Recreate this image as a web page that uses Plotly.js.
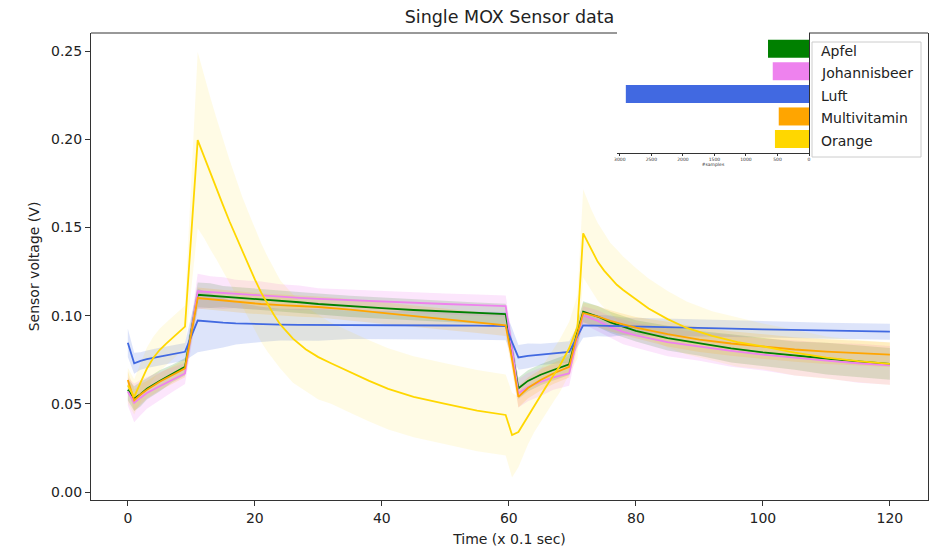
<!DOCTYPE html>
<html><head><meta charset="utf-8">
<script src="https://cdn.plot.ly/plotly-3.0.1.min.js"></script>
<style>body{margin:0;background:#fff}#chart{width:931px;height:548px}</style>
</head><body><div id="chart"></div>
<script>
// time axis (x 0.1 sec) shared by Apfel, Johannisbeer, Luft, Multivitamin
const timeSteps = [0, 1, 2, 3, 5, 7, 9,
  11, 13, 15, 17, 19, 21, 24, 27, 30, 35, 40, 45, 50, 55, 59.5,
  60.5, 61.5, 63, 65, 67, 69.5, 70.6, 71.7,
  74, 76, 78, 80, 85, 90, 95, 100, 105, 110, 115, 120];
// denser time axis for the Orange class (strong curvature)
const orangeTime = [0, 1, 2, 3, 4, 5, 6, 7, 8, 9,
  11, 12, 13, 14, 15, 16, 17, 18, 19, 20, 21, 22, 23, 24, 26, 28, 30, 32, 35, 38, 41, 45, 50, 55, 59.5,
  60.5, 61.5, 63, 64, 65, 66, 67, 68, 69.5, 70.8, 71.7,
  73, 74, 75, 76, 77, 78, 80, 82, 85, 88, 92, 96, 100, 105, 110, 115, 120];

// mean sensor voltage per class
const apfel = [0.058, 0.053, 0.0555, 0.0585, 0.063, 0.0672, 0.0710,
  0.1118, 0.1113, 0.1108, 0.1102, 0.1097, 0.1092, 0.1084, 0.1076, 0.1066, 0.1052, 0.1042, 0.1032, 0.1023, 0.1015, 0.1008,
  0.0800, 0.0588, 0.0630, 0.0665, 0.0692, 0.0724, 0.0880, 0.1022,
  0.0995, 0.0962, 0.0938, 0.0914, 0.0873, 0.0843, 0.0815, 0.0792, 0.0773, 0.0757, 0.0740, 0.0726];
const johannisbeer = [0.057, 0.0505, 0.0535, 0.0562, 0.0600, 0.0637, 0.0672,
  0.1138, 0.1133, 0.1128, 0.1123, 0.1118, 0.1114, 0.1108, 0.1101, 0.1095, 0.1087, 0.1080, 0.1073, 0.1066, 0.1060, 0.1054,
  0.0810, 0.0560, 0.0595, 0.0625, 0.0650, 0.0673, 0.0850, 0.1003,
  0.0970, 0.0935, 0.0908, 0.0888, 0.0850, 0.0824, 0.0800, 0.0779, 0.0760, 0.0745, 0.0730, 0.0718];
const luft = [0.0846, 0.0730, 0.0743, 0.0753, 0.0768, 0.0782, 0.0795,
  0.0972, 0.0965, 0.0960, 0.0956, 0.0953, 0.0951, 0.0949, 0.0948, 0.0947, 0.0947, 0.0946, 0.0945, 0.0944, 0.0943, 0.0941,
  0.0850, 0.0763, 0.0772, 0.0780, 0.0786, 0.0795, 0.0870, 0.0945,
  0.0943, 0.0941, 0.0939, 0.0937, 0.0933, 0.0929, 0.0926, 0.0922, 0.0918, 0.0915, 0.0912, 0.0909];
const multivitamin = [0.0635, 0.0520, 0.0553, 0.0580, 0.0625, 0.0665, 0.0701,
  0.1100, 0.1093, 0.1086, 0.1079, 0.1072, 0.1066, 0.1060, 0.1054, 0.1049, 0.1034, 0.1016, 0.0998, 0.0980, 0.0962, 0.0945,
  0.0750, 0.0540, 0.0590, 0.0635, 0.0672, 0.0710, 0.0870, 0.1015,
  0.0995, 0.0970, 0.0950, 0.0932, 0.0895, 0.0864, 0.0842, 0.0824, 0.0808, 0.0796, 0.0787, 0.0779];
const orange = [0.0605, 0.0540, 0.0620, 0.0700, 0.0760, 0.0805, 0.0840, 0.0872, 0.0903, 0.0938,
  0.1995, 0.1900, 0.1805, 0.1715, 0.1625, 0.1535, 0.1450, 0.1365, 0.1285, 0.1205, 0.1130, 0.1065, 0.1005, 0.0950,
  0.0870, 0.0810, 0.0765, 0.0730, 0.0680, 0.0630, 0.0585, 0.0540, 0.0500, 0.0462, 0.0437,
  0.0323, 0.0340, 0.0430, 0.0490, 0.0550, 0.0605, 0.0660, 0.0715, 0.0815, 0.0937, 0.1466,
  0.1370, 0.1305, 0.1255, 0.1212, 0.1175, 0.1145, 0.1090, 0.1040, 0.0980, 0.0930, 0.0885, 0.0850, 0.0826, 0.0790, 0.0762, 0.0742, 0.0727];

// spread (band half-width) per class
const apfelStd = [0.006, 0.007, 0.007, 0.006, 0.006, 0.005, 0.005,
  0.007, 0.007, 0.006, 0.006, 0.006, 0.006, 0.006, 0.006, 0.006, 0.006, 0.006, 0.006, 0.006, 0.006, 0.006,
  0.006, 0.006, 0.006, 0.006, 0.006, 0.006, 0.006, 0.006,
  0.006, 0.006, 0.006, 0.006, 0.007, 0.007, 0.008, 0.008, 0.008, 0.009, 0.009, 0.009];
const johannisbeerStd = [0.008, 0.011, 0.010, 0.009, 0.008, 0.007, 0.006,
  0.010, 0.009, 0.009, 0.008, 0.008, 0.008, 0.007, 0.007, 0.006, 0.006, 0.006, 0.006, 0.006, 0.006, 0.006,
  0.007, 0.008, 0.008, 0.008, 0.007, 0.007, 0.006, 0.005,
  0.006, 0.006, 0.007, 0.007, 0.008, 0.008, 0.009, 0.009, 0.010, 0.010, 0.011, 0.011];
const luftStd = [0.008, 0.006, 0.005, 0.005, 0.005, 0.005, 0.005,
  0.018, 0.016, 0.014, 0.012, 0.011, 0.010, 0.009, 0.009, 0.009, 0.008, 0.008, 0.008, 0.008, 0.008, 0.008,
  0.008, 0.007, 0.007, 0.006, 0.006, 0.006, 0.006, 0.007,
  0.006, 0.006, 0.005, 0.005, 0.005, 0.005, 0.005, 0.0045, 0.0045, 0.0045, 0.0045, 0.0045];
const multivitaminStd = [0.005, 0.006, 0.006, 0.005, 0.005, 0.005, 0.005,
  0.006, 0.006, 0.006, 0.006, 0.006, 0.006, 0.006, 0.006, 0.006, 0.006, 0.006, 0.006, 0.006, 0.006, 0.006,
  0.006, 0.006, 0.006, 0.006, 0.006, 0.006, 0.006, 0.006,
  0.006, 0.006, 0.006, 0.006, 0.007, 0.007, 0.007, 0.007, 0.007, 0.007, 0.007, 0.007];
const orangeStd = [0.010, 0.010, 0.011, 0.012, 0.012, 0.012, 0.012, 0.012, 0.012, 0.012,
  0.050, 0.046, 0.043, 0.040, 0.037, 0.035, 0.033, 0.031, 0.030, 0.029, 0.028, 0.027, 0.026, 0.025,
  0.025, 0.024, 0.024, 0.023, 0.023, 0.023, 0.023, 0.023, 0.023, 0.023, 0.023,
  0.024, 0.020, 0.016, 0.015, 0.015, 0.015, 0.015, 0.015, 0.015, 0.018, 0.025,
  0.023, 0.022, 0.021, 0.020, 0.020, 0.019, 0.018, 0.017, 0.016, 0.015, 0.014, 0.014, 0.013, 0.013, 0.012, 0.012, 0.012];

// inset: number of samples per class
const categories = ['Apfel', 'Johannisbeer', 'Luft', 'Multivitamin', 'Orange'];
const sampleCounts = [650, 575, 2905, 480, 540];

const xTicks = [0, 20, 40, 60, 80, 100, 120];
const yTicks = [0, 0.05, 0.10, 0.15, 0.20, 0.25];
const insetTicks = [0, 500, 1000, 1500, 2000, 2500, 3000];

const colors = ['green', 'violet', 'royalblue', 'orange', 'gold'];
const bandColors = ['rgba(0,128,0,0.17)', 'rgba(238,130,238,0.2)', 'rgba(65,105,225,0.18)', 'rgba(255,165,0,0.16)', 'rgba(255,215,0,0.1)'];
const times = [timeSteps, timeSteps, timeSteps, timeSteps, orangeTime];
const means = [apfel, johannisbeer, luft, multivitamin, orange];
const stds = [apfelStd, johannisbeerStd, luftStd, multivitaminStd, orangeStd];

const FONT = 'DejaVu Sans, sans-serif';
const traces = [];
means.forEach((m, i) => {
  const up = m.map((v, k) => v + stds[i][k]);
  const lo = m.map((v, k) => v - stds[i][k]);
  traces.push({
    x: times[i].concat(times[i].slice().reverse()),
    y: up.concat(lo.slice().reverse()),
    type: 'scatter', mode: 'lines', fill: 'toself', fillcolor: bandColors[i],
    line: {width: 0}, hoverinfo: 'skip', showlegend: false
  });
});
means.forEach((m, i) => {
  traces.push({
    x: times[i], y: m, type: 'scatter', mode: 'lines', name: categories[i],
    line: {color: colors[i], width: 1.8}, showlegend: false
  });
});
traces.push({
  type: 'bar', orientation: 'h', x: sampleCounts, y: categories,
  xaxis: 'x2', yaxis: 'y2', width: 0.8,
  marker: {color: colors, line: {width: 0}}, showlegend: false
});

const L = 91, R = 3, T = 33, B = 48, W = 931, H = 548;
const pw = W - L - R, ph = H - T - B;
const px = v => (v - L) / pw;
const py = v => (H - B - v) / ph;

const annotations = categories.map(c => ({
  text: c, xref: 'paper', x: px(819), xanchor: 'left',
  yref: 'y2', y: c, yanchor: 'middle', yshift: -2, showarrow: false,
  font: {family: FONT, size: 14, color: '#222'}
}));

const layout = {
  width: W, height: H,
  margin: {l: L, r: R, t: T, b: B},
  paper_bgcolor: '#fff', plot_bgcolor: '#fff',
  font: {family: FONT, color: '#222'},
  title: {text: 'Single MOX Sensor data', font: {family: FONT, size: 17.5, color: '#222'},
          xref: 'paper', x: 0.5, xanchor: 'center', yref: 'container', y: 1 - 17 / H, yanchor: 'middle'},
  xaxis: {
    range: [-5.8, 126], tickvals: xTicks, ticktext: xTicks.map(String),
    showline: true, linecolor: '#333', linewidth: 1, mirror: false,
    ticks: 'outside', ticklen: 5, tickcolor: '#333', showgrid: false, zeroline: false,
    tickfont: {family: FONT, size: 14, color: '#222'},
    title: {text: 'Time (x 0.1 sec)', font: {family: FONT, size: 14, color: '#222'}, standoff: 9}
  },
  yaxis: {
    range: [-0.0045, 0.2602], tickvals: yTicks, ticktext: yTicks.map(v => v.toFixed(2)),
    showline: true, linecolor: '#333', linewidth: 1, mirror: true,
    ticks: 'outside', ticklen: 5, tickcolor: '#333', showgrid: false, zeroline: false,
    tickfont: {family: FONT, size: 14, color: '#222'},
    title: {text: 'Sensor voltage (V)', font: {family: FONT, size: 14, color: '#222'}, standoff: 8}
  },
  xaxis2: {
    domain: [px(617), px(809)], anchor: 'y2', range: [3045, 0],
    tickvals: insetTicks, ticktext: insetTicks.map(String),
    showline: true, linecolor: '#333', linewidth: 1, ticks: 'outside', ticklen: 2, tickcolor: '#333',
    showgrid: false, zeroline: false,
    tickfont: {family: FONT, size: 4.5, color: '#333'},
    title: {text: '#samples', font: {family: FONT, size: 4.5, color: '#333'}, standoff: 1}
  },
  yaxis2: {
    domain: [py(153), 1], anchor: 'x2', type: 'category', categoryarray: categories,
    range: [4.62, -0.7], side: 'right', showline: true, linecolor: '#333', linewidth: 1,
    showticklabels: false, ticks: '', showgrid: false, zeroline: false
  },
  shapes: [
    {type: 'line', xref: 'paper', yref: 'paper', x0: 0, x1: px(617), y0: 1, y1: 1, line: {color: '#333', width: 1}},
    {type: 'line', xref: 'paper', yref: 'paper', x0: px(809), x1: 1, y0: 1, y1: 1, line: {color: '#333', width: 1}},
    {type: 'rect', xref: 'paper', yref: 'paper', x0: px(812), x1: px(921), y0: py(157), y1: py(42),
     line: {color: '#cccccc', width: 1}, fillcolor: 'rgba(255,255,255,0.85)', layer: 'above'}
  ],
  annotations: annotations
};

Plotly.newPlot('chart', traces, layout, {displayModeBar: false, staticPlot: true});
</script>
</body></html>
